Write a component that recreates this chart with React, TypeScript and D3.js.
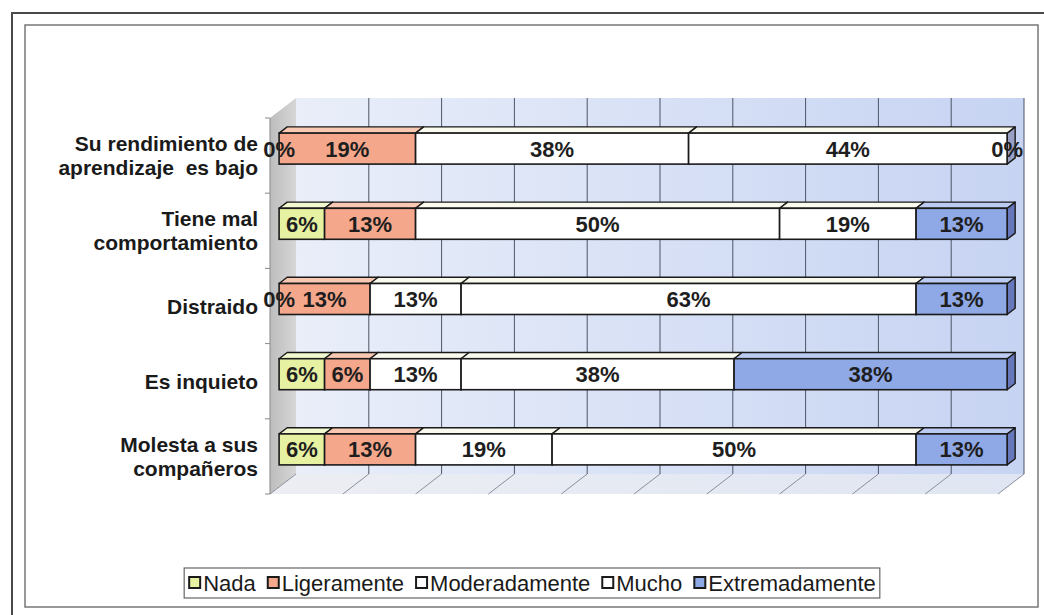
import React from 'react';
import * as d3 from 'd3';

// ---------- data ----------
const categories: string[][] = [
  ['Su rendimiento de', 'aprendizaje  es bajo'],
  ['Tiene mal', 'comportamiento'],
  ['Distraido'],
  ['Es inquieto'],
  ['Molesta a sus', 'compañeros'],
];
const seriesNames = ['Nada', 'Ligeramente', 'Moderadamente', 'Mucho', 'Extremadamente'];
const nada = [0, 6.25, 0, 6.25, 6.25];
const ligeramente = [18.75, 12.5, 12.5, 6.25, 12.5];
const moderadamente = [37.5, 50, 12.5, 12.5, 18.75];
const mucho = [43.75, 18.75, 62.5, 37.5, 50];
const extremadamente = [0, 12.5, 12.5, 37.5, 12.5];
const xTicks = [0, 10, 20, 30, 40, 50, 60, 70, 80, 90, 100];

// ---------- styles ----------
const FONT = '"Liberation Sans", Arial, Helvetica, sans-serif';
const frontColors = ['#e6f2a2', '#f5a78b', '#ffffff', '#ffffff', '#8fa8e6'];
const topColors = ['#f3f9cf', '#f9c8b3', '#fbfaee', '#fbfaee', '#bccbf1'];
const sideColors = ['#b9c77a', '#c98a72', '#9aa0c4', '#9aa0c4', '#6678bb'];

const DX = 26;
const DY = -20;
const BAR_F = 0.35;
const BAR_B = 0.66;
const BAR_H = 31;

function measure(text: string, font: string): number {
  const c = document.createElement('canvas');
  const ctx = c.getContext('2d');
  if (!ctx) return text.length * 10;
  ctx.font = font;
  return ctx.measureText(text).width;
}

export default function App() {
  const keys = categories.map((c) => c.join(' '));
  const rows = keys.map((k, i) => ({
    cat: k,
    Nada: nada[i],
    Ligeramente: ligeramente[i],
    Moderadamente: moderadamente[i],
    Mucho: mucho[i],
    Extremadamente: extremadamente[i],
  }));
  const stacked = d3.stack<any>().keys(seriesNames)(rows);

  const x = d3.scaleLinear().domain([0, 100]).range([270, 998]);
  const y = d3.scaleBand<string>().domain(keys).range([118, 494]).padding(0);
  const y0 = 118;
  const y1 = 494;
  const x0 = x(0);
  const x1 = x(100);

  const fdx = DX * BAR_F;
  const fdy = DY * BAR_F;
  const bdx = DX * (BAR_B - BAR_F);
  const bdy = DY * (BAR_B - BAR_F);

  const pts = (p: number[][]) => p.map((q) => q.join(',')).join(' ');

  // legend layout
  const legendFontSize = 22;
  const legendFont = `${legendFontSize}px "Liberation Sans", Arial`;
  const marker = 12;
  const items = seriesNames.map((s) => ({ s, w: measure(s, legendFont) }));
  const itemGap = 11;
  const innerW =
    items.reduce((a, it) => a + marker + 3 + it.w, 0) + itemGap * (items.length - 1);
  const legendW = innerW + 8;
  const legendX = 532 - legendW / 2;
  const legendY = 568;
  const legendH = 30;
  let cursor = legendX + 4;
  const legendItems = items.map((it, i) => {
    const pos = cursor;
    cursor += marker + 3 + it.w + itemGap;
    return { ...it, i, pos };
  });

  return (
    <svg
      width={1044}
      height={615}
      style={{ position: 'absolute', left: 0, top: 0, background: '#fff' }}
      fontFamily={FONT}
    >
      <defs>
        <linearGradient id="wall" x1="0" y1="0" x2="1" y2="0">
          <stop offset="0" stopColor="#e9eef9" />
          <stop offset="1" stopColor="#c6d3f2" />
        </linearGradient>
        <linearGradient id="side" x1="0" y1="0" x2="1" y2="0">
          <stop offset="0" stopColor="#bdbdbd" />
          <stop offset="1" stopColor="#d6d6d6" />
        </linearGradient>
        <linearGradient id="floor" x1="0" y1="0" x2="1" y2="0">
          <stop offset="0" stopColor="#eceef3" />
          <stop offset="1" stopColor="#dfe5f2" />
        </linearGradient>
      </defs>

      {/* frames */}
      <path d="M12,615 V13 H1044" fill="none" stroke="#4a4a4a" strokeWidth={2} />
      <rect x={25} y={25} width={1013} height={582} fill="none" stroke="#777" strokeWidth={1.5} />

      {/* back wall */}
      <rect x={x0 + DX} y={y0 + DY} width={x1 - x0} height={y1 - y0} fill="url(#wall)" />
      {/* side wall */}
      <polygon
        points={pts([
          [x0, y0],
          [x0 + DX, y0 + DY],
          [x0 + DX, y1 + DY],
          [x0, y1],
        ])}
        fill="url(#side)"
      />
      {/* floor */}
      <polygon
        points={pts([
          [x0, y1],
          [x1, y1],
          [x1 + DX, y1 + DY],
          [x0 + DX, y1 + DY],
        ])}
        fill="url(#floor)"
      />
      {/* gridlines */}
      {xTicks.map((t) => (
        <g key={t}>
          {t > 0 && (
            <line
              x1={x(t) + DX}
              x2={x(t) + DX}
              y1={y0 + DY}
              y2={y1 + DY}
              stroke="#4d5566"
              strokeWidth={1}
            />
          )}
          <line
            x1={x(t) + DX}
            x2={x(t)}
            y1={y1 + DY}
            y2={y1}
            stroke="#8a8f99"
            strokeWidth={1}
          />
        </g>
      ))}
      {/* left axis */}
      <line x1={x0} x2={x0} y1={y0} y2={y1} stroke="#888" strokeWidth={1} />
      {keys.map((k) => (
        <line key={k} x1={x0 - 5} x2={x0} y1={y(k)!} y2={y(k)!} stroke="#888" />
      ))}
      <line x1={x0 - 5} x2={x0} y1={y1} y2={y1} stroke="#888" />

      {/* category labels */}
      {categories.map((lines, i) => {
        const cy = y(keys[i])! + y.bandwidth() / 2;
        const lh = 24;
        const start = cy - ((lines.length - 1) * lh) / 2;
        return (
          <text
            key={i}
            textAnchor="end"
            fontSize={21}
            fontWeight="bold"
            fill="#1a1a1a"
            style={{ whiteSpace: 'pre' }}
          >
            {lines.map((l, j) => (
              <tspan key={j} x={258} y={start + j * lh} dy="0.36em">
                {l}
              </tspan>
            ))}
          </text>
        );
      })}

      {/* bars */}
      {keys.map((k, ri) => {
        const cy = y(k)! + y.bandwidth() / 2 + fdy;
        const top = cy - BAR_H / 2;
        const bot = cy + BAR_H / 2;
        const segs = stacked.map((s, si) => {
          const d = s[ri];
          return { si, a: x(d[0]) + fdx, b: x(d[1]) + fdx, v: d[1] - d[0] };
        });
        return (
          <g key={k}>
            {segs
              .filter((s) => s.v > 0)
              .map((s) => (
                <g key={s.si}>
                  <polygon
                    points={pts([
                      [s.b, top],
                      [s.b + bdx, top + bdy],
                      [s.b + bdx, bot + bdy],
                      [s.b, bot],
                    ])}
                    fill={sideColors[s.si]}
                    stroke="#1a1a1a"
                    strokeWidth={1.4}
                    strokeLinejoin="round"
                  />
                  <polygon
                    points={pts([
                      [s.a, top],
                      [s.b, top],
                      [s.b + bdx, top + bdy],
                      [s.a + bdx, top + bdy],
                    ])}
                    fill={topColors[s.si]}
                    stroke="#1a1a1a"
                    strokeWidth={1.4}
                    strokeLinejoin="round"
                  />
                  <rect
                    x={s.a}
                    y={top}
                    width={s.b - s.a}
                    height={BAR_H}
                    fill={frontColors[s.si]}
                    stroke="#1a1a1a"
                    strokeWidth={1.6}
                  />
                </g>
              ))}
            {segs.map((s) => (
              <text
                key={'t' + s.si}
                x={(s.a + s.b) / 2}
                y={cy}
                dy="0.36em"
                textAnchor="middle"
                fontSize={22}
                fontWeight="bold"
                fill="#1e1e1e"
              >
                {Math.round(s.v)}%
              </text>
            ))}
          </g>
        );
      })}

      {/* legend */}
      <rect
        x={legendX}
        y={legendY}
        width={legendW}
        height={legendH}
        fill="#fff"
        stroke="#666"
        strokeWidth={1.2}
      />
      {legendItems.map((it) => (
        <g key={it.s}>
          <rect
            x={it.pos + 1}
            y={legendY + legendH / 2 - marker / 2}
            width={marker - 1}
            height={marker - 1}
            fill={frontColors[it.i]}
            stroke="#1a1a1a"
            strokeWidth={2}
          />
          <text
            x={it.pos + marker + 3}
            y={legendY + legendH / 2}
            dy="0.36em"
            fontSize={legendFontSize}
            fill="#1a1a1a"
          >
            {it.s}
          </text>
        </g>
      ))}
    </svg>
  );
}
